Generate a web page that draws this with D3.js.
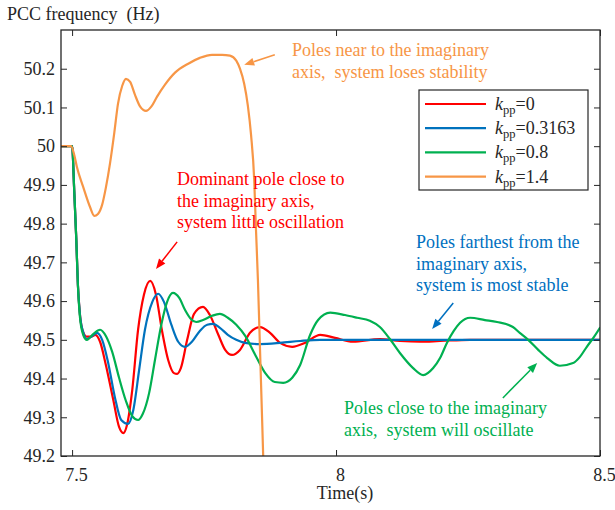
<!DOCTYPE html>
<html>
<head>
<meta charset="utf-8">
<script src="https://cdn.jsdelivr.net/npm/d3@7/dist/d3.min.js"></script>
<style>
  body { margin: 0; background: #fff; }
  text { font-family: "Liberation Serif", "Times New Roman", serif; }
</style>
</head>
<body>
<svg id="chart" width="615" height="510"></svg>
<script>
// ---- data: PCC frequency (Hz) vs. time (s) for four values of k_pp ----
const kppValues = ["0", "0.3163", "0.8", "1.4"];
const seriesColors = ["#ff0000", "#0072bd", "#00b050", "#f79646"];

const timeK0 = [7.479,7.500,7.504,7.508,7.511,7.515,7.521,7.528,7.536,7.544,7.553,7.564,7.578,7.589,7.597,7.604,7.614,7.625,7.636,7.648,7.659,7.670,7.682,7.693,7.699,7.706,7.718,7.731,7.748,7.761,7.777,7.790,7.803,7.818,7.837,7.856,7.875,7.894,7.917,7.941,7.970,7.998,8.032,8.083,8.121,8.159,8.197,8.254,8.500];
const freqK0 = [50.0,50.0,49.887,49.758,49.642,49.564,49.520,49.508,49.508,49.513,49.495,49.435,49.345,49.275,49.259,49.280,49.371,49.526,49.616,49.652,49.616,49.526,49.448,49.414,49.412,49.427,49.500,49.567,49.585,49.564,49.513,49.474,49.461,49.474,49.518,49.533,49.518,49.492,49.482,49.492,49.513,49.505,49.495,49.502,49.497,49.495,49.497,49.500,49.500];

const timeK03163 = [7.479,7.500,7.504,7.508,7.511,7.515,7.521,7.528,7.538,7.547,7.557,7.568,7.581,7.593,7.606,7.616,7.627,7.638,7.652,7.663,7.674,7.688,7.701,7.714,7.727,7.742,7.756,7.767,7.780,7.795,7.811,7.828,7.856,7.894,7.932,7.970,8.500];
const freqK03163 = [50.0,50.0,49.887,49.758,49.642,49.564,49.520,49.502,49.510,49.518,49.500,49.443,49.352,49.293,49.283,49.319,49.422,49.526,49.598,49.619,49.598,49.539,49.495,49.482,49.495,49.523,49.539,49.541,49.531,49.513,49.500,49.492,49.489,49.492,49.497,49.500,49.500];

const timeK08 = [7.479,7.500,7.504,7.508,7.511,7.515,7.521,7.528,7.540,7.553,7.564,7.576,7.589,7.602,7.614,7.625,7.634,7.646,7.657,7.669,7.680,7.691,7.703,7.714,7.725,7.735,7.748,7.765,7.780,7.795,7.811,7.828,7.847,7.866,7.884,7.900,7.917,7.932,7.951,7.966,7.989,8.017,8.040,8.064,8.083,8.102,8.121,8.146,8.165,8.184,8.197,8.210,8.223,8.235,8.254,8.282,8.305,8.335,8.348,8.364,8.383,8.400,8.424,8.449,8.462,8.475,8.489,8.500];
const freqK08 = [50.0,50.0,49.887,49.758,49.642,49.557,49.513,49.500,49.515,49.526,49.510,49.469,49.402,49.342,49.303,49.293,49.309,49.363,49.448,49.539,49.598,49.621,49.608,49.577,49.554,49.546,49.551,49.562,49.567,49.557,49.539,49.510,49.461,49.414,49.391,49.389,49.402,49.435,49.513,49.551,49.570,49.564,49.557,49.549,49.533,49.502,49.466,49.427,49.409,49.427,49.453,49.492,49.523,49.544,49.557,49.551,49.546,49.533,49.518,49.500,49.474,49.453,49.433,49.440,49.456,49.482,49.508,49.531];

const timeK14 = [7.479,7.498,7.504,7.509,7.521,7.534,7.542,7.549,7.557,7.564,7.572,7.580,7.587,7.595,7.602,7.610,7.619,7.629,7.640,7.650,7.661,7.676,7.695,7.720,7.742,7.765,7.784,7.799,7.811,7.818,7.826,7.833,7.839,7.845,7.848,7.852,7.856,7.860,7.862];
const freqK14 = [50.0,50.0,49.978,49.947,49.895,49.843,49.820,49.825,49.849,49.893,49.957,50.035,50.110,50.156,50.174,50.166,50.133,50.102,50.091,50.102,50.128,50.159,50.190,50.213,50.228,50.236,50.236,50.234,50.221,50.200,50.161,50.104,50.029,49.913,49.797,49.655,49.474,49.293,49.200];

const xTickValues = [7.5, 8, 8.5];
const yTickValues = [49.2, 49.3, 49.4, 49.5, 49.6, 49.7, 49.8, 49.9, 50, 50.1, 50.2];

const series = [
  { kpp: kppValues[0], color: seriesColors[0], pts: d3.zip(timeK0, freqK0) },
  { kpp: kppValues[1], color: seriesColors[1], pts: d3.zip(timeK03163, freqK03163) },
  { kpp: kppValues[2], color: seriesColors[2], pts: d3.zip(timeK08, freqK08) },
  { kpp: kppValues[3], color: seriesColors[3], pts: d3.zip(timeK14, freqK14) }
];

// ---- layout ----
const svg = d3.select("#chart");
const plot = { left: 61, right: 600, top: 30, bottom: 456 };
const axisColor = "#262626";

const x = d3.scaleLinear().domain([7.479, 8.5]).range([plot.left, plot.right]);
const y = d3.scaleLinear().domain([49.2, 50.3]).range([plot.bottom, plot.top]);

svg.append("defs").append("clipPath").attr("id", "plotClip")
  .append("rect")
  .attr("x", plot.left).attr("y", plot.top)
  .attr("width", plot.right - plot.left).attr("height", plot.bottom - plot.top);

// ---- curves ----
const line = d3.line()
  .x(d => x(d[0]))
  .y(d => y(d[1]))
  .curve(d3.curveMonotoneX);

svg.append("g").attr("clip-path", "url(#plotClip)")
  .selectAll("path")
  .data(series)
  .join("path")
  .attr("d", d => line(d.pts))
  .attr("fill", "none")
  .attr("stroke", d => d.color)
  .attr("stroke-width", 2.2)
  .attr("stroke-linejoin", "round")
  .attr("stroke-linecap", "round");

// ---- axes (ticks point inward, box on all sides) ----
const fmt = d => String(+d.toFixed(1));
const tickLen = 6;

function styleAxis(g) {
  g.select(".domain").remove();
  g.selectAll(".tick line").attr("stroke", axisColor).attr("stroke-width", 1);
  g.selectAll(".tick text").attr("fill", axisColor).attr("font-size", 18)
    .attr("font-family", "'Liberation Serif', 'Times New Roman', serif");
}

svg.append("g")
  .attr("transform", `translate(0,${plot.bottom})`)
  .call(d3.axisBottom(x).tickValues(xTickValues).tickFormat(fmt).tickSize(-tickLen).tickPadding(12))
  .call(styleAxis)
  .call(g => g.selectAll(".tick text").attr("dx", 4));

svg.append("g")
  .attr("transform", `translate(0,${plot.top})`)
  .call(d3.axisTop(x).tickValues(xTickValues).tickFormat("").tickSize(-tickLen))
  .call(styleAxis);

svg.append("g")
  .attr("transform", `translate(${plot.left},0)`)
  .call(d3.axisLeft(y).tickValues(yTickValues).tickFormat(fmt).tickSize(-tickLen).tickPadding(6))
  .call(styleAxis);

svg.append("g")
  .attr("transform", `translate(${plot.right},0)`)
  .call(d3.axisRight(y).tickValues(yTickValues).tickFormat("").tickSize(-tickLen))
  .call(styleAxis);

svg.append("rect")
  .attr("x", plot.left).attr("y", plot.top)
  .attr("width", plot.right - plot.left).attr("height", plot.bottom - plot.top)
  .attr("fill", "none").attr("stroke", axisColor).attr("stroke-width", 1.3);

// ---- axis titles ----
svg.append("text")
  .attr("x", 7).attr("y", 20)
  .attr("font-size", 18).attr("fill", axisColor)
  .attr("xml:space", "preserve")
  .text("PCC frequency  (Hz)");

svg.append("text")
  .attr("x", 345).attr("y", 499)
  .attr("text-anchor", "middle")
  .attr("font-size", 18).attr("fill", axisColor)
  .text("Time(s)");

// ---- legend ----
const legend = svg.append("g");
legend.append("rect")
  .attr("x", 419).attr("y", 90).attr("width", 169).attr("height", 100)
  .attr("fill", "#fff").attr("stroke", axisColor).attr("stroke-width", 1.2);

series.forEach((s, i) => {
  const cy = 104 + i * 24.2;
  legend.append("line")
    .attr("x1", 425).attr("x2", 486).attr("y1", cy).attr("y2", cy)
    .attr("stroke", s.color).attr("stroke-width", 2.2);
  const t = legend.append("text")
    .attr("x", 495).attr("y", cy + 6)
    .attr("font-size", 18).attr("fill", axisColor);
  t.append("tspan").attr("font-style", "italic").text("k");
  t.append("tspan").attr("font-size", 12.5).attr("dy", 4).text("pp");
  t.append("tspan").attr("dy", -4).text("=" + s.kpp);
});

// ---- annotations ----
const notes = [
  { color: "#f79646", x: 292, y: 56, lines: ["Poles near to the imaginary", "axis,  system loses stability"],
    arrow: [[7.884, 50.236], [7.826, 50.210]] },
  { color: "#ff0000", x: 177, y: 185, lines: ["Dominant pole close to", "the imaginary axis,", "system little oscillation"],
    arrow: [[7.699, 49.753], [7.659, 49.683]] },
  { color: "#0070c0", x: 416, y: 248, lines: ["Poles farthest from the", "imaginary axis,", "system is most stable"],
    arrow: [[8.222, 49.595], [8.182, 49.528]] },
  { color: "#00b050", x: 344, y: 414, lines: ["Poles close to the imaginary", "axis,  system will oscillate"],
    arrow: [[8.316, 49.350], [8.381, 49.440]] }
];

const lineGap = 21.5;
notes.forEach(n => {
  const t = svg.append("text")
    .attr("font-size", 18).attr("fill", n.color)
    .attr("xml:space", "preserve");
  n.lines.forEach((s, i) => {
    t.append("tspan").attr("x", n.x).attr("y", n.y + i * lineGap).text(s);
  });

  const [p0, p1] = n.arrow.map(d => [x(d[0]), y(d[1])]);
  const dx = p1[0] - p0[0], dy = p1[1] - p0[1];
  const len = Math.hypot(dx, dy);
  const ux = dx / len, uy = dy / len;
  const headL = 10, headW = 4;
  const bx = p1[0] - ux * headL, by = p1[1] - uy * headL;
  svg.append("line")
    .attr("x1", p0[0]).attr("y1", p0[1]).attr("x2", bx).attr("y2", by)
    .attr("stroke", n.color).attr("stroke-width", 1.5);
  svg.append("path")
    .attr("d", `M${p1[0]},${p1[1]}L${bx - uy * headW},${by + ux * headW}L${bx + uy * headW},${by - ux * headW}Z`)
    .attr("fill", n.color);
});
</script>
</body>
</html>
